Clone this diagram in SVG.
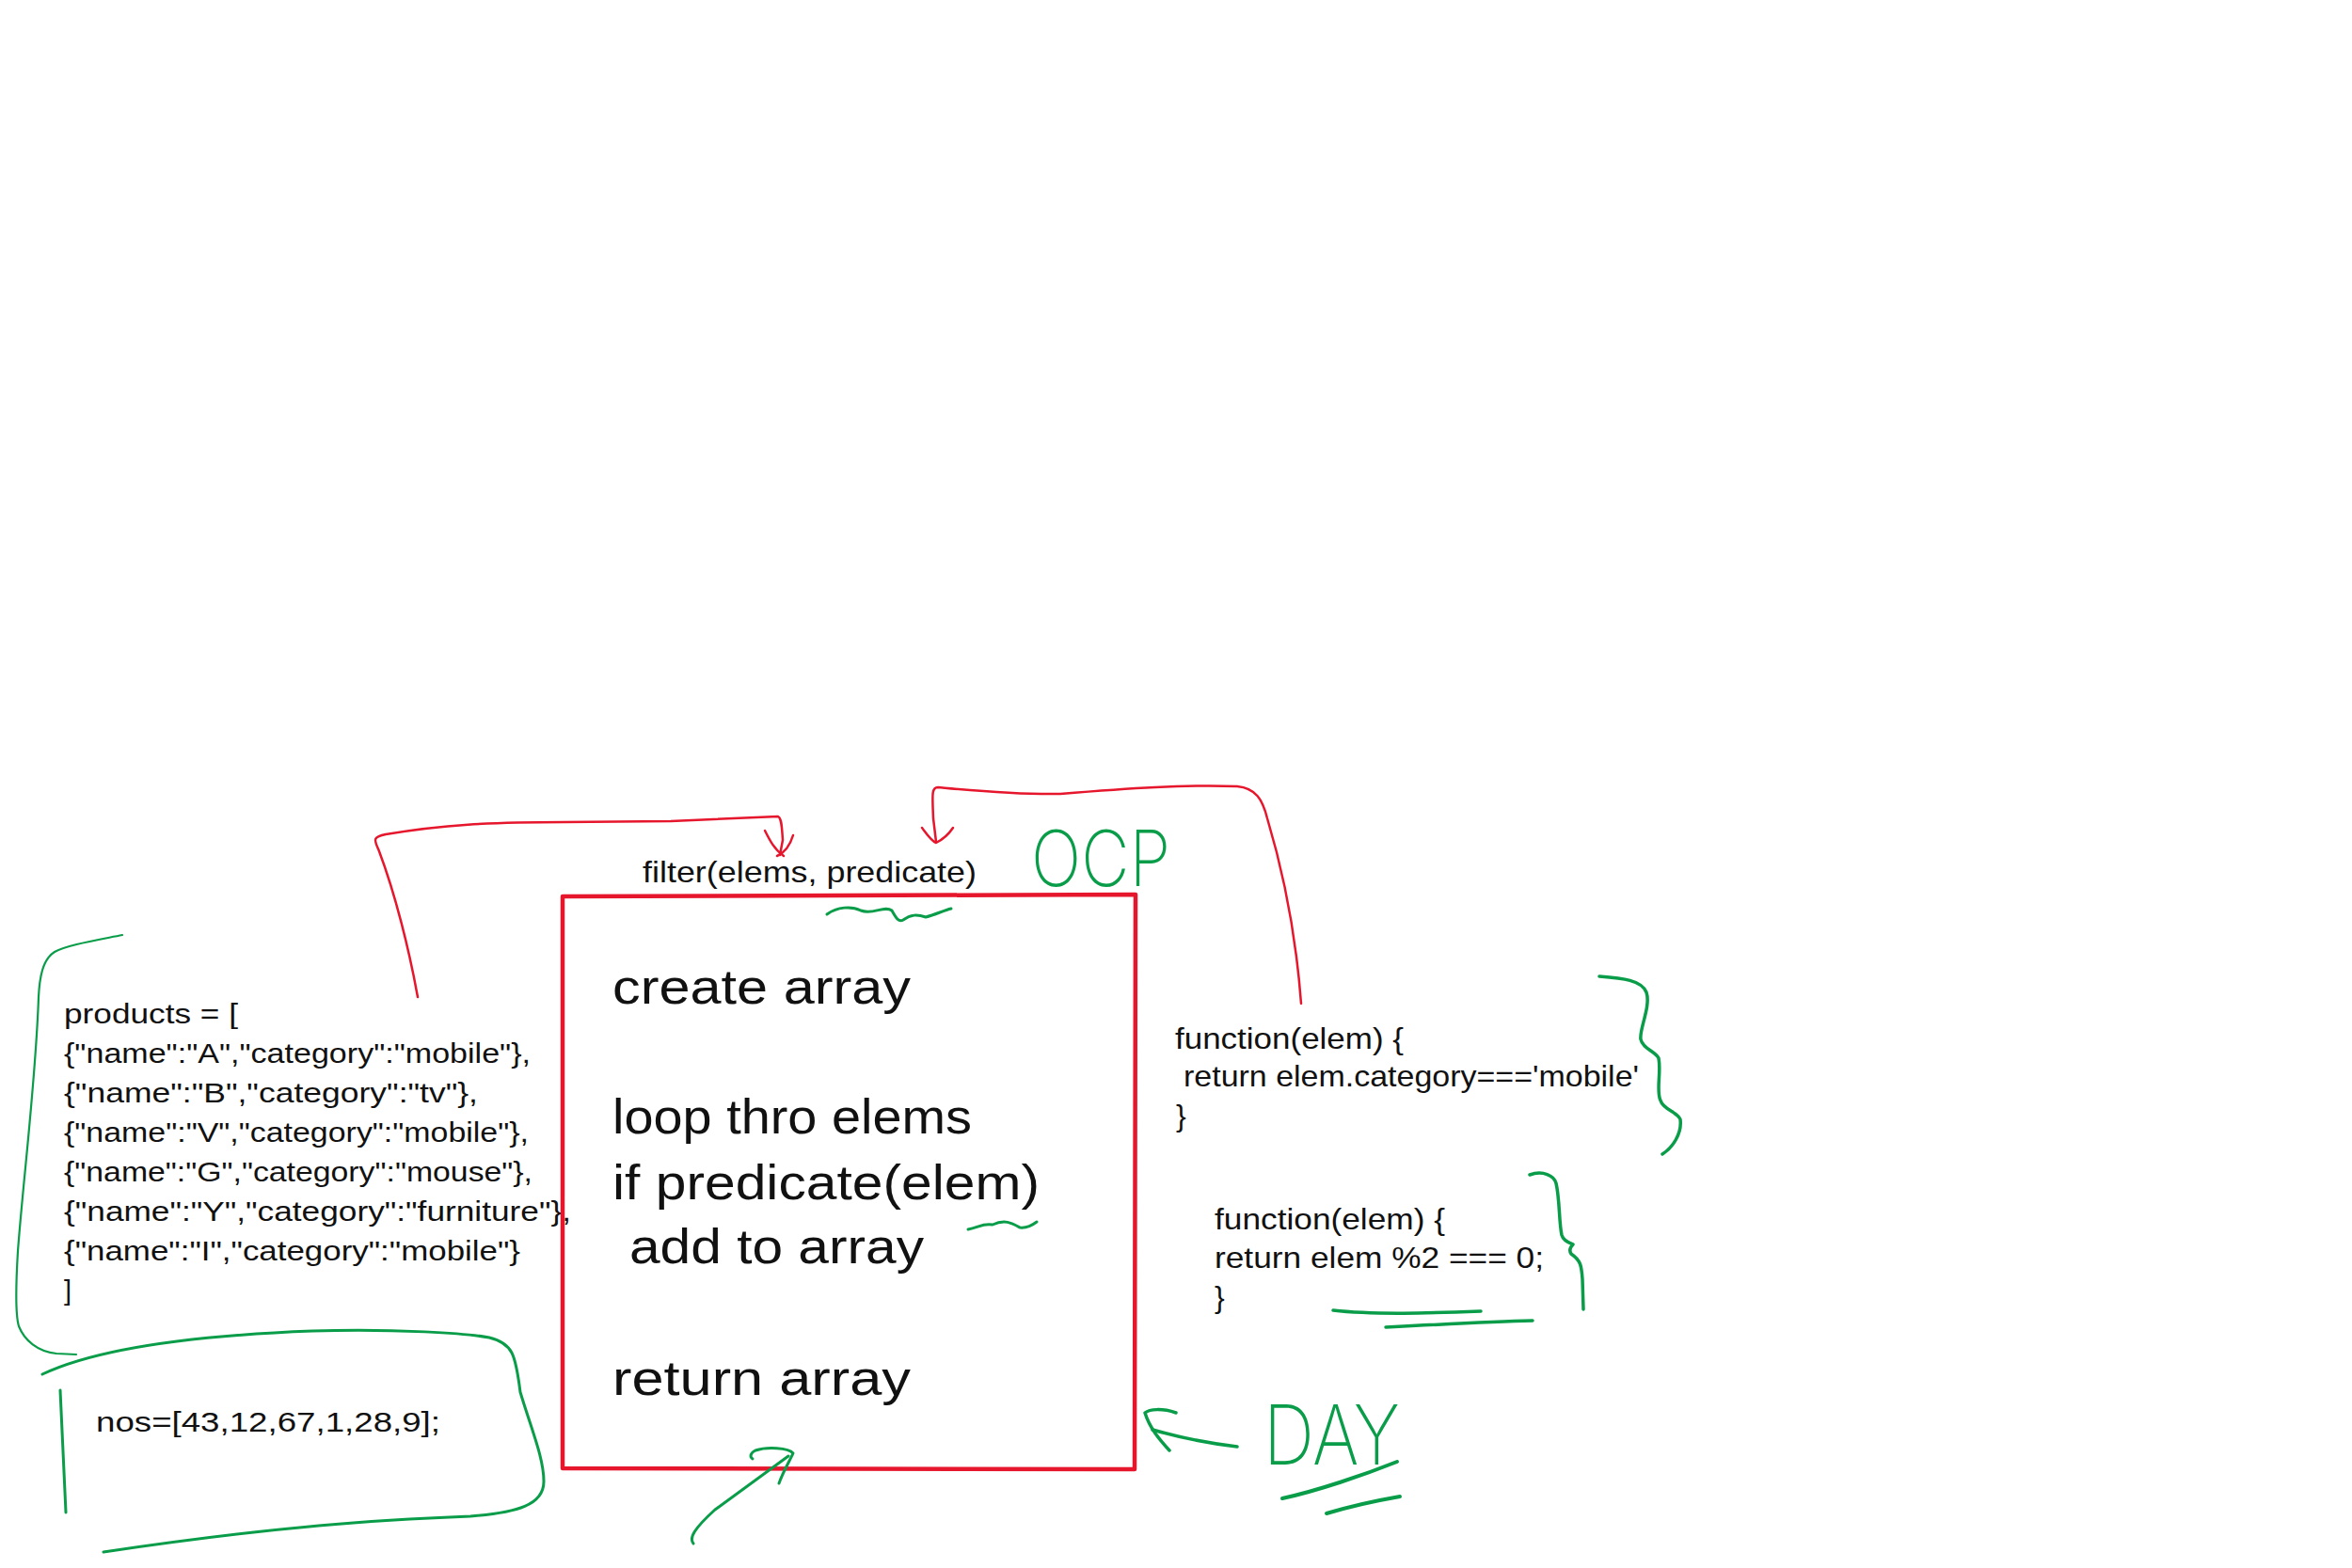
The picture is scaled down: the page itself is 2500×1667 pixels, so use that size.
<svg xmlns="http://www.w3.org/2000/svg" width="2500" height="1667" viewBox="0 0 2500 1667">
<style>
.t{font-family:"Liberation Sans","DejaVu Sans",sans-serif;fill:#111;}
.s{font-size:29px;}
.m{font-size:32px;}
.b{font-size:52px;}
.g{fill:none;stroke:#0a9d49;stroke-linecap:round;stroke-linejoin:round;}
.r{fill:none;stroke:#e6162d;stroke-linecap:round;stroke-linejoin:round;}
.h{font-family:Inter,"Open Sans","Liberation Sans",sans-serif;font-weight:200;fill:#0a9d49;}
</style>
<rect width="2500" height="1667" fill="#fff"/>
<g id="products">
<path class="g" stroke-width="2.2" d="M130,994 C100,1000 70,1005 58,1012 C45,1020 42,1040 41,1060 C38,1150 25,1250 19,1330 C16,1380 17,1400 20,1410 C26,1425 40,1437 60,1439 L81,1440"/>
<text class="t s" x="68" y="1088" textLength="185" lengthAdjust="spacingAndGlyphs">products = [</text>
<text class="t s" x="68" y="1130" textLength="496" lengthAdjust="spacingAndGlyphs">{"name":"A","category":"mobile"},</text>
<text class="t s" x="68" y="1172" textLength="440" lengthAdjust="spacingAndGlyphs">{"name":"B","category":"tv"},</text>
<text class="t s" x="68" y="1214" textLength="494" lengthAdjust="spacingAndGlyphs">{"name":"V","category":"mobile"},</text>
<text class="t s" x="68" y="1256" textLength="498" lengthAdjust="spacingAndGlyphs">{"name":"G","category":"mouse"},</text>
<text class="t s" x="68" y="1298" textLength="539" lengthAdjust="spacingAndGlyphs">{"name":"Y","category":"furniture"},</text>
<text class="t s" x="68" y="1340" textLength="485" lengthAdjust="spacingAndGlyphs">{"name":"I","category":"mobile"}</text>
<text class="t s" x="68" y="1382">]</text>
</g>
<g id="nos">
<path class="g" stroke-width="3" d="M45,1461 C100,1435 200,1420 332,1415 C420,1412 500,1418 520,1422 C545,1428 548,1440 553,1480 C565,1520 578,1550 578,1575 C578,1600 550,1608 500,1612 C400,1616 300,1622 110,1650"/>
<path class="g" stroke-width="3" d="M64,1478 L70,1608"/>
<text class="t s" x="102" y="1522" textLength="366" lengthAdjust="spacingAndGlyphs">nos=[43,12,67,1,28,9];</text>
</g>
<g id="filter">
<text class="t m" x="683" y="938" textLength="355" lengthAdjust="spacingAndGlyphs">filter(elems, predicate)</text>
<path class="r" stroke-width="4.5" d="M598,953 L1207,951 L1206,1562 L598,1561 Z"/>
<text class="t b" x="651" y="1067" textLength="317" lengthAdjust="spacingAndGlyphs">create array</text>
<text class="t b" x="651" y="1205" textLength="382" lengthAdjust="spacingAndGlyphs">loop thro elems</text>
<text class="t b" x="651" y="1275" textLength="454" lengthAdjust="spacingAndGlyphs">if predicate(elem)</text>
<text class="t b" x="669" y="1343" textLength="313" lengthAdjust="spacingAndGlyphs">add to array</text>
<text class="t b" x="651" y="1483" textLength="317" lengthAdjust="spacingAndGlyphs">return array</text>
<path class="g" stroke-width="3" d="M879,972 C890,964 905,963 915,968 C928,973 940,962 948,968 C952,975 955,981 960,978 C968,972 975,972 984,975 C995,972 1003,968 1011,966"/>
<path class="g" stroke-width="3" d="M1029,1307 C1040,1305 1045,1300 1055,1302 C1068,1296 1075,1300 1084,1305 C1092,1306 1098,1302 1102,1299"/>
</g>
<g id="ocp">
<text class="h" x="1096" y="942" font-size="82" textLength="148" lengthAdjust="spacingAndGlyphs">OCP</text>
</g>
<g id="predicate-mobile">
<text class="t m" x="1249" y="1115" textLength="243" lengthAdjust="spacingAndGlyphs">function(elem) {</text>
<text class="t m" x="1258" y="1155" textLength="484" lengthAdjust="spacingAndGlyphs">return elem.category==='mobile'</text>
<text class="t m" x="1250" y="1197">}</text>
<path class="g" stroke-width="3.5" d="M1700,1038 C1725,1040 1745,1042 1750,1055 C1755,1070 1742,1095 1744,1105 C1746,1115 1760,1118 1763,1125 C1766,1140 1760,1160 1765,1170 C1768,1180 1783,1182 1786,1190 C1788,1205 1778,1220 1767,1227"/>
</g>
<g id="predicate-even">
<text class="t m" x="1291" y="1307" textLength="245" lengthAdjust="spacingAndGlyphs">function(elem) {</text>
<text class="t m" x="1291" y="1348" textLength="350" lengthAdjust="spacingAndGlyphs">return elem %2 === 0;</text>
<text class="t m" x="1291" y="1390">}</text>
<path class="g" stroke-width="3.5" d="M1626,1249 C1640,1244 1652,1250 1654,1258 C1658,1275 1657,1300 1660,1313 C1662,1320 1670,1322 1672,1323 C1668,1327 1668,1330 1670,1333 C1680,1340 1681,1345 1682,1360 L1683,1392"/>
<path class="g" stroke-width="3.5" d="M1417,1393 C1460,1398 1520,1396 1574,1394"/>
<path class="g" stroke-width="3.5" d="M1473,1411 C1530,1408 1590,1405 1629,1404"/>
</g>
<g id="day">
<text class="h" x="1343" y="1557" font-size="88" textLength="145" lengthAdjust="spacingAndGlyphs">DAY</text>
<path class="g" stroke-width="4" d="M1485,1554 C1450,1568 1400,1585 1363,1593"/>
<path class="g" stroke-width="4" d="M1410,1609 C1440,1600 1465,1595 1488,1591"/>
</g>
<g id="connectors">
<path class="r" stroke-width="2.5" d="M444,1060 C435,1010 420,950 403,905 C398,893 395,890 410,887 C470,877 520,874 600,874 L713,873 L827,868 C831,870 831,880 832,893 L829,909"/>
<path class="r" stroke-width="2.5" d="M813,883 C818,893 823,903 833,910 M843,888 C840,898 835,906 826,910"/>
<path class="r" stroke-width="2.5" d="M1383,1067 C1378,1000 1365,930 1347,870 C1342,850 1335,838 1315,836 C1260,834 1200,838 1127,844 C1080,845 1030,840 997,837 C990,837 991,845 992,870 L995,895"/>
<path class="r" stroke-width="2.5" d="M980,880 C986,888 990,894 995,896 C1003,892 1009,886 1013,880"/>
<path class="g" stroke-width="3" d="M737,1641 C732,1635 738,1625 760,1605 L838,1548"/>
<path class="g" stroke-width="3" d="M828,1577 C833,1563 840,1552 843,1545 C838,1539 815,1538 803,1542 C797,1545 797,1549 800,1551"/>
<path class="g" stroke-width="3.5" d="M1315,1538 C1290,1535 1260,1530 1225,1520"/>
<path class="g" stroke-width="3.5" d="M1250,1502 C1235,1497 1222,1498 1217,1502 C1222,1518 1232,1530 1243,1542"/>
</g>
</svg>
